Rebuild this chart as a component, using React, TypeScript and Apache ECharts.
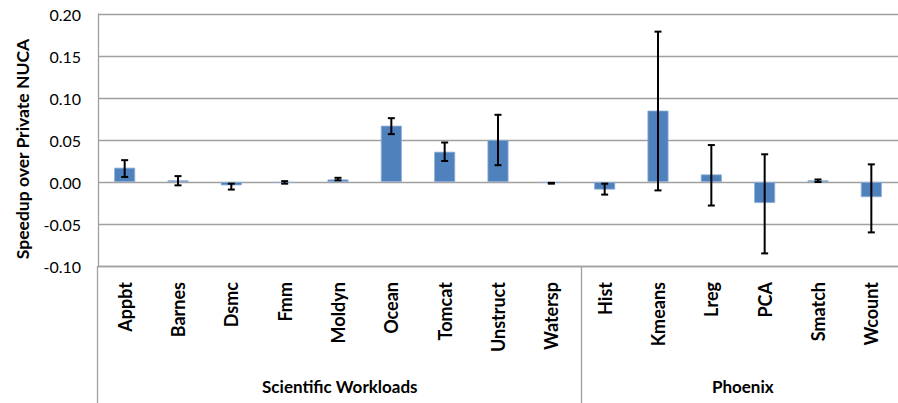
import React, { useEffect, useRef } from "react";
import * as echarts from "echarts";

const categories = ["Appbt", "Barnes", "Dsmc", "Fmm", "Moldyn", "Ocean", "Tomcat", "Unstruct", "Watersp", "Hist", "Kmeans", "Lreg", "PCA", "Smatch", "Wcount"];
const values = [0.017, 0.002, -0.004, -0.001, 0.003, 0.067, 0.036, 0.05, -0.001, -0.009, 0.085, 0.009, -0.025, 0.002, -0.018];
const errLow = [0.006, -0.004, -0.009, -0.002, 0.002, 0.057, 0.025, 0.02, -0.002, -0.015, -0.01, -0.028, -0.085, 0.0, -0.06];
const errHigh = [0.026, 0.007, -0.002, 0.001, 0.005, 0.076, 0.047, 0.08, -0.001, -0.002, 0.179, 0.044, 0.033, 0.003, 0.021];
const groupNames = ["Scientific Workloads", "Phoenix"];
const groupSizes = [9, 6];
const yTitle = "Speedup over Private NUCA";

const GRID_LEFT = 98;
const GRID_TOP = 14;
const GRID_W = 806;
const GRID_H = 252;
const FONT = "Lato, 'Open Sans', sans-serif";
const LINE = "#a0a0a0";

export default function App() {
  const ref = useRef<HTMLDivElement>(null);
  useEffect(() => {
    if (!ref.current) return;
    const chart = echarts.init(ref.current, undefined, { renderer: "svg" });
    const catW = GRID_W / categories.length;
    const bottom = GRID_TOP + GRID_H;
    const graphics: any[] = [];
    graphics.push({
      type: "text",
      x: 22,
      y: 149,
      rotation: Math.PI / 2,
      style: { text: yTitle, font: `bold 17.5px ${FONT}`, fill: "#000", align: "center", verticalAlign: "middle" },
    });
    let start = 0;
    const seps = [0];
    groupSizes.forEach((n, i) => {
      const cx = GRID_LEFT + (start + n / 2) * catW;
      graphics.push({
        type: "text",
        x: cx,
        y: 386,
        style: { text: groupNames[i], font: `bold 17px ${FONT}`, fill: "#000", align: "center", verticalAlign: "middle" },
      });
      start += n;
      seps.push(start);
    });
    seps.forEach((s) => {
      const x = Math.round(GRID_LEFT + s * catW) - 0.5;
      graphics.push({ type: "line", shape: { x1: x, y1: bottom, x2: x, y2: 403 }, style: { stroke: LINE, lineWidth: 1.3 } });
    });

    chart.setOption({
      animation: false,
      grid: { left: GRID_LEFT, top: GRID_TOP, width: GRID_W, height: GRID_H },
      xAxis: {
        type: "category",
        data: categories,
        position: "bottom",
        axisLine: { onZero: false, show: true, lineStyle: { color: LINE, width: 1.3 } },
        axisTick: { show: false },
        axisLabel: { rotate: 90, margin: 16, fontFamily: FONT, fontWeight: "bold", fontSize: 18, color: "#000", interval: 0 },
      },
      yAxis: {
        type: "value",
        min: -0.1,
        max: 0.2,
        interval: 0.05,
        axisLine: { show: true, lineStyle: { color: LINE, width: 1.3 } },
        axisTick: { show: false },
        splitLine: { lineStyle: { color: LINE, width: 1.3 } },
        axisLabel: { fontFamily: FONT, fontSize: 16, color: "#000", margin: 17, formatter: (v: number) => v.toFixed(2) },
      },
      series: [
        {
          type: "bar",
          data: values,
          barWidth: 21,
          itemStyle: { color: "#4f81bd", borderColor: "#8eaed6", borderWidth: 0.8 },
        },
        {
          type: "custom",
          data: categories.map((_, i) => [i, errLow[i], errHigh[i]]),
          z: 10,
          renderItem: (params: any, api: any) => {
            const i = api.value(0);
            const lo = api.coord([i, api.value(1)]);
            const hi = api.coord([i, api.value(2)]);
            const hw = 3.5;
            const st = { stroke: "#000", lineWidth: 2 };
            return {
              type: "group",
              children: [
                { type: "line", shape: { x1: lo[0], y1: lo[1], x2: hi[0], y2: hi[1] }, style: st },
                { type: "line", shape: { x1: lo[0] - hw, y1: lo[1], x2: lo[0] + hw, y2: lo[1] }, style: st },
                { type: "line", shape: { x1: hi[0] - hw, y1: hi[1], x2: hi[0] + hw, y2: hi[1] }, style: st },
              ],
            };
          },
        },
      ],
      graphic: graphics,
    });
    return () => chart.dispose();
  }, []);
  return <div ref={ref} style={{ width: 898, height: 403, position: "absolute", left: 0, top: 0, background: "#fff" }} />;
}
